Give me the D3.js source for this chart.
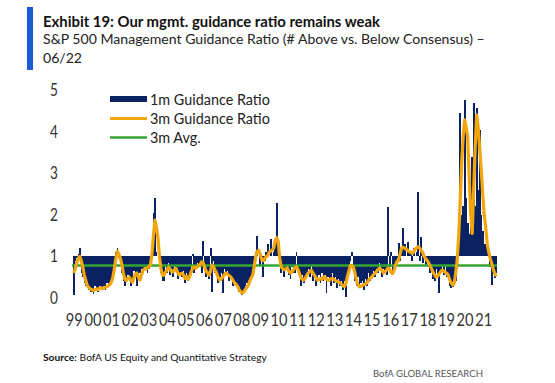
<!DOCTYPE html>
<html><head><meta charset="utf-8">
<script src="https://cdn.jsdelivr.net/npm/d3@7"></script>
<style>body{margin:0;background:#fff}svg{display:block}text{font-family:Lato,"Open Sans",sans-serif}</style>
</head><body><svg id="c" width="555" height="383"></svg>
<script>
// ---- DATA (monthly, Jan 1999 - Jun 2022) ----
const guidance1m = [
 0.07,0.9,0.95,1.05,1.2,0.6,0.5,0.35,0.3,0.25,0.2,0.15,        // 1999
 0.15,0.1,0.3,0.2,0.15,0.3,0.25,0.2,0.3,0.2,0.35,0.3,          // 2000
 0.3,0.45,0.6,0.9,1.1,1.2,0.95,0.85,0.6,0.4,0.3,0.45,          // 2001
 0.55,0.4,0.3,0.35,0.65,0.55,0.3,0.45,0.6,0.7,0.6,0.75,        // 2002
 0.75,0.6,0.7,0.9,1.0,2.05,2.4,1.1,1.0,0.85,0.6,0.4,           // 2003
 0.4,0.75,0.6,0.85,0.55,0.7,0.5,0.8,0.65,0.45,0.6,0.55,        // 2004
 0.5,0.65,0.35,0.6,0.4,0.55,0.8,1.05,0.6,0.7,0.85,0.75,        // 2005
 0.9,0.6,1.38,0.8,0.5,0.65,0.45,1.2,0.15,0.9,0.6,0.55,         // 2006
 0.35,0.5,0.6,0.12,0.7,0.55,0.65,0.4,0.55,0.5,0.3,0.35,        // 2007
 0.3,0.25,0.15,0.2,0.07,0.15,0.3,0.35,0.4,0.45,0.55,0.65,      // 2008
 0.9,1.1,1.48,1.0,0.8,0.95,0.5,0.9,1.1,1.31,1.0,1.43,          // 2009
 1.0,1.1,1.3,2.28,1.2,0.95,0.6,0.75,0.5,0.7,0.8,0.55,          // 2010
 0.45,0.75,0.6,0.6,1.1,0.7,0.5,0.3,0.55,0.35,0.5,0.6,          // 2011
 0.7,0.5,0.8,0.4,0.6,0.3,0.45,0.55,0.35,0.6,0.4,0.55,          // 2012
 0.11,0.5,0.45,0.3,0.6,0.35,0.5,0.25,0.45,0.3,0.4,0.2,         // 2013
 0.4,0.03,0.6,0.7,0.9,1.1,0.65,0.4,0.3,0.5,0.25,0.35,          // 2014
 0.4,0.2,0.45,0.3,0.6,0.4,0.55,0.65,0.5,0.7,0.6,0.85,          // 2015
 0.8,0.5,0.7,0.6,0.55,2.19,0.75,1.1,0.6,0.65,0.85,0.95,        // 2016
 1.33,0.9,1.1,1.68,1.3,1.0,1.35,1.1,1.05,0.9,1.2,1.0,          // 2017
 1.1,2.55,0.9,1.47,0.85,1.05,0.8,0.9,0.75,0.6,0.8,0.45,        // 2018
 0.4,0.7,0.5,0.12,0.6,0.75,0.55,0.8,0.5,0.6,0.3,0.25,          // 2019
 0.27,0.5,0.4,0.7,1.0,4.44,2.0,2.2,4.76,2.4,1.8,1.55,          // 2020
 1.7,3.4,4.68,2.2,4.56,2.6,4.04,2.0,1.6,1.3,1.31,1.1,          // 2021
 1.05,0.75,0.31,0.8,0.47,0.6                                   // 2022
];
const guidance3m = [
 0.6,0.7,0.85,0.95,1.0,0.9,0.75,0.55,0.42,0.3,0.25,0.22,       // 1999
 0.2,0.18,0.2,0.22,0.2,0.23,0.25,0.22,0.24,0.26,0.27,0.3,      // 2000
 0.32,0.38,0.5,0.7,0.95,1.12,1.05,0.95,0.8,0.6,0.45,0.42,      // 2001
 0.48,0.5,0.42,0.38,0.48,0.58,0.6,0.5,0.43,0.55,0.66,0.7,      // 2002
 0.7,0.72,0.75,0.8,1.05,1.5,1.87,1.7,1.45,1.0,0.7,0.55,        // 2003
 0.55,0.62,0.68,0.74,0.7,0.64,0.63,0.68,0.71,0.62,0.56,0.58,   // 2004
 0.6,0.55,0.47,0.52,0.45,0.5,0.62,0.7,0.75,0.72,0.74,0.78,     // 2005
 0.8,0.87,0.85,0.75,0.65,0.6,0.55,0.65,0.79,0.75,0.67,0.6,     // 2006
 0.5,0.43,0.45,0.5,0.55,0.6,0.58,0.55,0.52,0.48,0.42,0.36,     // 2007
 0.33,0.28,0.2,0.15,0.12,0.14,0.2,0.25,0.3,0.4,0.48,0.55,      // 2008
 0.75,1.0,1.12,1.15,1.05,0.92,0.9,0.95,0.99,1.02,1.1,1.13,     // 2009
 1.15,1.2,1.38,1.45,1.35,0.95,0.75,0.7,0.68,0.7,0.72,0.65,     // 2010
 0.6,0.62,0.67,0.72,0.75,0.7,0.6,0.5,0.45,0.43,0.48,0.55,      // 2011
 0.6,0.64,0.67,0.6,0.55,0.5,0.43,0.44,0.47,0.45,0.5,0.51,      // 2012
 0.45,0.43,0.42,0.46,0.47,0.45,0.42,0.4,0.39,0.37,0.33,0.3,    // 2013
 0.27,0.35,0.52,0.65,0.78,0.78,0.74,0.6,0.43,0.32,0.27,0.28,   // 2014
 0.3,0.32,0.34,0.36,0.42,0.47,0.5,0.55,0.58,0.62,0.67,0.71,    // 2015
 0.7,0.66,0.6,0.63,0.67,0.72,0.7,0.62,0.59,0.66,0.78,0.88,     // 2016
 0.9,1.05,1.2,1.22,1.2,1.17,1.15,1.12,1.1,1.07,1.1,1.18,       // 2017
 1.2,1.23,1.2,1.15,1.1,1.0,0.95,0.9,0.85,0.78,0.7,0.62,        // 2018
 0.55,0.5,0.52,0.58,0.63,0.67,0.65,0.62,0.6,0.55,0.45,0.36,    // 2019
 0.31,0.35,0.59,0.9,1.47,2.3,3.23,3.9,4.28,4.1,3.87,2.9,       // 2020
 2.03,1.55,2.6,3.63,4.4,4.1,3.6,3.1,2.5,2.0,1.7,1.3,           // 2021
 1.1,0.95,0.83,0.7,0.59,0.52                                   // 2022
];
const avg3m = 0.78;
const baseValue = 1;
const yTicks = [0,1,2,3,4,5];
const xLabels = ["99","00","01","02","03","04","05","06","07","08","09","10","11","12","13","14","15","16","17","18","19","20","21"];
const seriesNames = ["1m Guidance Ratio","3m Guidance Ratio","3m Avg."];

const months = d3.timeMonth.range(new Date(1999,0,1), new Date(2022,6,1));
const data = months.map((m,i)=>({date:m, v1:guidance1m[i], v3:guidance3m[i]}));

const NAVY="#0a2262", ORANGE="#f2a60c", GREEN="#33a532";
const svg = d3.select("#c");

function fit(sel, w){
  const n = sel.node(); const fs = parseFloat(sel.attr("font-size"));
  const m = n.getComputedTextLength(); sel.attr("font-size", fs*w/m);
}

// header
svg.append("rect").attr("x",27).attr("y",7).attr("width",6).attr("height",63).attr("fill","#1d5bd6");
fit(svg.append("text").attr("x",43).attr("y",27).attr("font-size",15).attr("font-weight","bold").attr("fill","#111")
  .text("Exhibit 19: Our mgmt. guidance ratio remains weak"),337);
const sub = svg.append("text").attr("x",43).attr("y",44).attr("font-size",14).attr("fill","#222")
  .text("S&P 500 Management Guidance Ratio (# Above vs. Below Consensus) \u2013");
fit(sub,442);
svg.append("text").attr("x",43).attr("y",63).attr("font-size",sub.attr("font-size")).attr("fill","#222").text("06/22");

// scales
const x = d3.scaleBand().domain(months).range([73,497]).paddingInner(0);
const y = d3.scaleLinear().domain([0,5]).range([298,90]);
const xl = d3.scaleBand().domain(xLabels).range([65,493]);

// bars from baseline 1
svg.append("g").attr("shape-rendering","crispEdges").selectAll("rect").data(data).join("rect")
  .attr("x",d=>x(d.date)).attr("width",x.bandwidth()+0.3)
  .attr("y",d=>Math.min(y(d.v1),y(baseValue)))
  .attr("height",d=>Math.abs(y(d.v1)-y(baseValue)))
  .attr("fill",NAVY);

// avg line
svg.append("line").attr("x1",x.range()[0]-1).attr("x2",x.range()[1]).attr("y1",y(avg3m)).attr("y2",y(avg3m))
  .attr("stroke",GREEN).attr("stroke-width",2.5);

// 3m line
svg.append("path").datum(data)
  .attr("d",d3.line().x(d=>x(d.date)+x.bandwidth()/2).y(d=>y(d.v3)))
  .attr("fill","none").attr("stroke",ORANGE).attr("stroke-width",3.2).attr("stroke-linejoin","round");

// axes
const ya = svg.append("g").attr("transform","translate(58,0)")
  .call(d3.axisLeft(y).tickValues(yTicks).tickSize(0).tickPadding(0).tickFormat(d3.format("d")));
ya.select(".domain").remove();
ya.selectAll("text").attr("font-size",17).attr("fill","#333").attr("transform","scale(0.8,1)");
const xa = svg.append("g").attr("transform","translate(0,312)")
  .call(d3.axisBottom(xl).tickSize(0).tickPadding(2));
xa.select(".domain").remove();
xa.selectAll("text").attr("font-size",17).attr("fill","#333").attr("transform","scale(0.86,1)");

// legend
const lg = svg.append("g");
const rows=[99,118.5,137.5];
lg.append("rect").attr("x",110).attr("y",rows[0]-3).attr("width",37).attr("height",6).attr("fill",NAVY);
lg.append("line").attr("x1",110).attr("x2",147).attr("y1",rows[1]).attr("y2",rows[1]).attr("stroke",ORANGE).attr("stroke-width",3);
lg.append("line").attr("x1",110).attr("x2",147).attr("y1",rows[2]).attr("y2",rows[2]).attr("stroke",GREEN).attr("stroke-width",2.5);
const lt = seriesNames.map((s,i)=>lg.append("text").attr("x",150).attr("y",rows[i]+5.5).attr("font-size",15).attr("fill","#222").text(s));
fit(lt[0],120); lt[1].attr("font-size",lt[0].attr("font-size")); lt[2].attr("font-size",lt[0].attr("font-size"));

// footer
const src = svg.append("text").attr("x",43).attr("y",361).attr("font-size",11).attr("fill","#111");
src.append("tspan").attr("font-weight","bold").text("Source:");
src.append("tspan").text("  BofA US Equity and Quantitative Strategy");
fit(src,224);
fit(svg.append("text").attr("x",373).attr("y",377).attr("font-size",11).attr("fill","#555").text("BofA GLOBAL RESEARCH"),110);
</script></body></html>
